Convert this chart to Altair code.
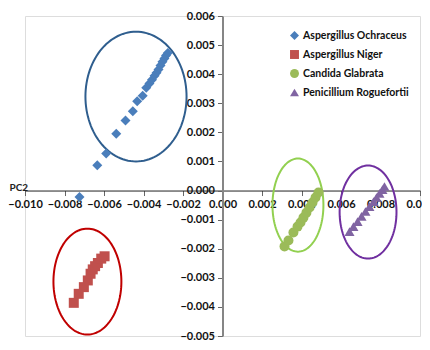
import altair as alt
import numpy as np
import pandas as pd

species = ["Aspergillus Ochraceus", "Aspergillus Niger", "Candida Glabrata", "Penicillium Roguefortii"]
shapes = ["diamond", "square", "circle", "triangle-up"]
point_colors = ["#4A7EBB", "#C0504D", "#9BBB59", "#8064A2"]
ellipse_colors = ["#2F5E8E", "#C00000", "#92D050", "#7030A0"]

ochraceus_x = [-0.00724, -0.00634, -0.00589, -0.00538, -0.00491, -0.00454, -0.00432, -0.00404,
               -0.00386, -0.00370, -0.00357, -0.00344, -0.00334, -0.00324, -0.00314, -0.00304,
               -0.00294, -0.00286, -0.00277]
ochraceus_y = [-0.00022, 0.00087, 0.00127, 0.00195, 0.00241, 0.00273, 0.00307, 0.00326,
               0.00353, 0.00368, 0.00381, 0.00395, 0.00405, 0.00416, 0.00430, 0.00443,
               0.00454, 0.00464, 0.00473]
niger_x = [-0.00753, -0.00728, -0.00702, -0.00682, -0.00668, -0.00657, -0.00645, -0.00631, -0.00614, -0.00597]
niger_y = [-0.00386, -0.00355, -0.00332, -0.00309, -0.00286, -0.00271, -0.00260, -0.00249, -0.00234, -0.00226]
glabrata_x = [0.00314, 0.00334, 0.00359, 0.00380, 0.00395, 0.00410, 0.00425, 0.00441, 0.00456, 0.00471, 0.00486]
glabrata_y = [-0.00192, -0.00172, -0.00144, -0.00124, -0.00110, -0.00093, -0.00076, -0.00058, -0.00041, -0.00024, -0.00007]
roguefortii_x = [0.00643, 0.00663, 0.00684, 0.00704, 0.00724, 0.00744, 0.00765, 0.00780, 0.00795, 0.00810, 0.00820]
roguefortii_y = [-0.00141, -0.00124, -0.00107, -0.00089, -0.00072, -0.00055, -0.00038, -0.00024, -0.00010, 0.00003, 0.00014]

# Cluster ellipses (center x, center y, radius x, radius y) in data units
ell_cx = [-0.00438, -0.00684, 0.00382, 0.00737]
ell_cy = [0.00323, -0.00313, -0.00050, -0.00074]
ell_rx = [0.00256, 0.00172, 0.00129, 0.00144]
ell_ry = [0.00223, 0.00182, 0.00160, 0.00160]

x_ticks = [-0.010, -0.008, -0.006, -0.004, -0.002, 0.0, 0.002, 0.004, 0.006, 0.008, 0.010]
y_ticks = [-0.005, -0.004, -0.003, -0.002, -0.001, 0.0, 0.001, 0.002, 0.003, 0.004, 0.005, 0.006]

rows = []
for name, xs, ys in zip(species, [ochraceus_x, niger_x, glabrata_x, roguefortii_x],
                        [ochraceus_y, niger_y, glabrata_y, roguefortii_y]):
    for a, b in zip(xs, ys):
        rows.append({"species": name, "x": a, "y": b})
pts = pd.DataFrame(rows)

erows = []
t = np.linspace(0, 2 * np.pi, 121)
for name, cx, cy, rx, ry in zip(species, ell_cx, ell_cy, ell_rx, ell_ry):
    for i, tt in enumerate(t):
        erows.append({"cluster": name, "i": i, "ex": cx + rx * np.cos(tt), "ey": cy + ry * np.sin(tt)})
ell = pd.DataFrame(erows)

W, H = 395, 320
xscale = alt.Scale(domain=[-0.010, 0.010], nice=False, zero=False)
yscale = alt.Scale(domain=[-0.005, 0.006], nice=False, zero=False)
y_zero_px = H * 0.006 / 0.011
x_zero_px = W / 2

xaxis = alt.Axis(values=x_ticks, format=".3f", orient="bottom", offset=-(H - y_zero_px),
                 title="PC 1", titleX=200, titleY=155, titleFontSize=10, titleFont="Lato",
                 titleFontWeight="bold", titleColor="#222",
                 labelFont="Lato", labelFontSize=11, labelFontWeight="bold", labelColor="#111",
                 labelOverlap=False, labelFlush=False, labelBound=False, grid=False,
                 domainColor="#222", tickColor="#666", tickSize=5, labelPadding=3)
yaxis = alt.Axis(values=y_ticks, format=".3f", orient="left", offset=-x_zero_px,
                 title="PC2", titleAngle=0, titleX=-x_zero_px - 16, titleY=176, titleAlign="left",
                 titleFontSize=10, titleFont="Lato", titleFontWeight="bold", titleColor="#222",
                 labelFont="Lato", labelFontSize=11, labelFontWeight="bold", labelColor="#111",
                 labelOverlap=False, labelFlush=False, labelBound=False, grid=False,
                 domainColor="#868686", domainWidth=2, tickColor="#666", tickSize=5, labelPadding=3)

legend = alt.Legend(title=None, orient="none", legendX=264, legendY=14,
                    labelFont="Lato", labelFontSize=10.5, labelFontWeight="bold",
                    labelColor="#111", symbolSize=80, labelOffset=3, rowPadding=8)

ellipses = alt.Chart(ell).mark_line(strokeWidth=2, clip=False).encode(
    x=alt.X("ex:Q", scale=xscale, axis=xaxis, title="PC 1"),
    y=alt.Y("ey:Q", scale=yscale, axis=yaxis, title="PC2"),
    detail="cluster:N",
    order="i:Q",
    stroke=alt.Stroke("cluster:N", scale=alt.Scale(domain=species, range=ellipse_colors), legend=None),
)

points = alt.Chart(pts).mark_point(filled=True, opacity=1, size=100).encode(
    x=alt.X("x:Q", scale=xscale, axis=xaxis, title="PC 1"),
    y=alt.Y("y:Q", scale=yscale, axis=yaxis, title="PC2"),
    color=alt.Color("species:N", scale=alt.Scale(domain=species, range=point_colors), legend=legend),
    shape=alt.Shape("species:N", scale=alt.Scale(domain=species, range=shapes), legend=legend),
)

chart = alt.layer(ellipses, points).resolve_legend(stroke="independent").properties(
    width=W, height=H,
    autosize=alt.AutoSizeParams(type="none"),
    padding={"left": 17, "top": 8, "right": 2, "bottom": 10},
).configure_view(stroke="#A8C0E0", strokeWidth=1).configure(background="white")

chart.save("out.html", embed_options={"renderer": "svg", "actions": False})
